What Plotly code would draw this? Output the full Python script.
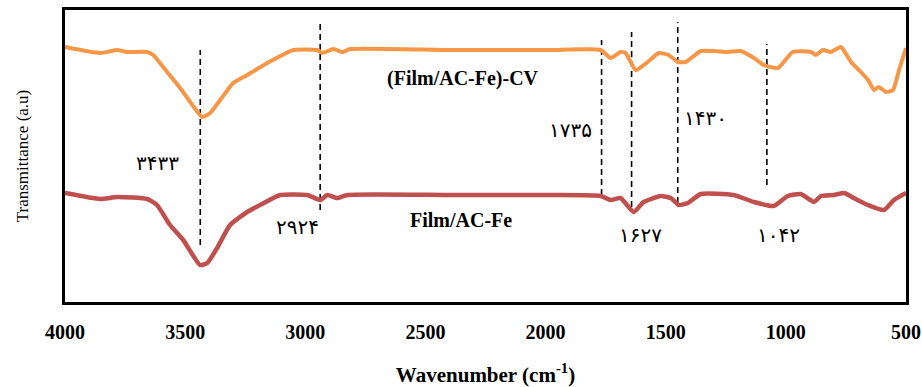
import plotly.graph_objects as go

# Orange series: (Film/AC-Fe)-CV
cv_wavenumber = [4000, 3854, 3783, 3742, 3658, 3633, 3575, 3521, 3467, 3429, 3396, 3354, 3300, 3242,
                 3158, 3050, 2950, 2929, 2883, 2846, 2813, 2396, 1979, 1771, 1729, 1688, 1667, 1625,
                 1575, 1529, 1488, 1450, 1417, 1354, 1300, 1242, 1188, 1133, 1092, 1033, 971, 896,
                 875, 846, 813, 771, 729, 688, 658, 633, 613, 583, 554, 529, 500]
cv_trans = [255, 249, 252, 250, 250, 247, 230, 214, 196, 185, 189, 202, 219, 227,
            239, 252, 252, 249, 253, 250, 253, 252, 252, 252, 244, 250, 249, 232,
            240, 249, 247, 240, 240, 251, 251, 250, 251, 244, 237, 234, 250, 250,
            247, 252, 250, 255, 240, 230, 222, 212, 215, 210, 212, 232, 254]

# Red series: Film/AC-Fe
fe_wavenumber = [4000, 3854, 3783, 3658, 3617, 3563, 3508, 3438, 3408, 3367, 3313, 3242, 3188, 3104,
                 2992, 2938, 2908, 2867, 2825, 2396, 1979, 1771, 1729, 1688, 1633, 1592, 1521, 1479,
                 1446, 1408, 1354, 1217, 1133, 1050, 992, 938, 883, 854, 800, 758, 717, 658, 592,
                 550, 500]
fe_trans = [109, 103, 105, 103, 97, 77, 62, 37, 39, 54, 77, 90, 97, 107,
            107, 102, 107, 104, 107, 107, 107, 106, 102, 104, 90, 100, 106, 104,
            97, 99, 108, 107, 100, 96, 106, 108, 100, 106, 107, 109, 104, 97, 92,
            102, 109]

# Marker (dashed) lines
peak_pos = [3437, 2938, 1767, 1642, 1450, 1079]
peak_top = [252, 280, 262, 270, 280, 258]
peak_bottom = [57, 92, 107, 95, 99, 117]

# Peak labels (Persian digits)
peak_labels = ["۳۴۳۳", "۲۹۲۴", "۱۷۳۵", "۱۶۲۷", "۱۴۳۰", "۱۰۴۲"]
label_x = [3617, 3033, 1896, 1604, 1333, 1029]
label_y = [139, 75, 172, 67, 184, 67]

series_names = ["(Film/AC-Fe)-CV", "Film/AC-Fe"]
series_label_x = [2342, 2354]
series_label_y = [224, 82]

x_ticks = [4000, 3500, 3000, 2500, 2000, 1500, 1000, 500]

fig = go.Figure()

for xp, yt, yb in zip(peak_pos, peak_top, peak_bottom):
    fig.add_trace(go.Scatter(x=[xp, xp], y=[yb, yt], mode="lines",
                             line=dict(color="black", width=1.6, dash="6px,4px"),
                             showlegend=False, hoverinfo="skip"))

fig.add_trace(go.Scatter(x=cv_wavenumber, y=cv_trans, mode="lines", name=series_names[0],
                         line=dict(color="#F79646", width=4, shape="spline", smoothing=0.5),
                         showlegend=False))
fig.add_trace(go.Scatter(x=fe_wavenumber, y=fe_trans, mode="lines", name=series_names[1],
                         line=dict(color="#C0504D", width=4.5, shape="spline", smoothing=0.5),
                         showlegend=False))

for t, x, y in zip(peak_labels, label_x, label_y):
    fig.add_annotation(x=x, y=y, text=t, showarrow=False,
                       font=dict(family="DejaVu Sans", size=20, color="black"))

for t, x, y in zip(series_names, series_label_x, series_label_y):
    fig.add_annotation(x=x, y=y, text="<b>" + t + "</b>", showarrow=False,
                       font=dict(family="Liberation Serif", size=20, color="black"))

fig.update_layout(
    width=922, height=387,
    margin=dict(l=65, r=16, t=10, b=85),
    plot_bgcolor="white", paper_bgcolor="white",
    xaxis=dict(range=[4000, 500], tickvals=x_ticks,
               ticktext=["<b>%d</b>" % v for v in x_ticks],
               tickfont=dict(family="Liberation Serif", size=20, color="black"),
               showgrid=False, zeroline=False, showline=True, linecolor="black",
               linewidth=3, mirror=True, ticks="", ticklabelstandoff=10,
               automargin=False,
               title=dict(text="<b>Wavenumber (cm<sup>-1</sup>)</b>",
                          font=dict(family="Liberation Serif", size=21, color="black"),
                          standoff=30)),
    yaxis=dict(range=[0, 292], showticklabels=False, showgrid=False, zeroline=False,
               showline=True, linecolor="black", linewidth=3, mirror=True, ticks="",
               automargin=False,
               title=dict(text="Transmittance (a.u)",
                          font=dict(family="Liberation Serif", size=17, color="black"),
                          standoff=30)),
)

fig.write_html("out.html")
